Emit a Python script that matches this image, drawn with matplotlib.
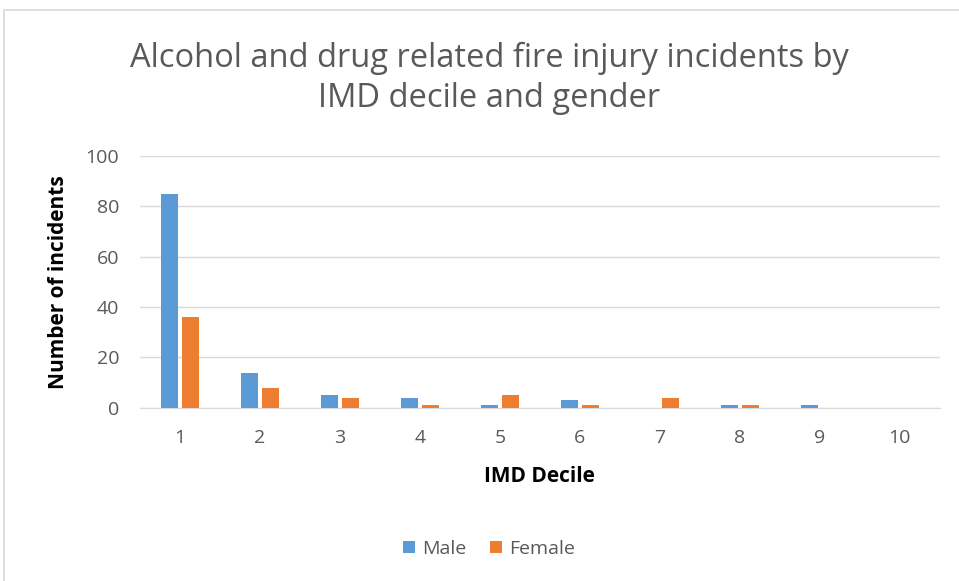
import numpy as np
import matplotlib.pyplot as plt
from matplotlib.patches import Rectangle

deciles = ['1', '2', '3', '4', '5', '6', '7', '8', '9', '10']
male = [85, 14, 5, 4, 1, 3, 0, 1, 1, 0]
female = [36, 8, 4, 1, 5, 1, 4, 1, 0, 0]

plt.rcParams['font.family'] = ['Open Sans', 'DejaVu Sans']

fig = plt.figure(figsize=(9.59, 5.81), dpi=100)
ax = fig.add_axes([0.146, 0.298, 0.834, 0.4335])

# chart frame
fig.patches.append(Rectangle((0.004, -0.1), 1.2, 1.082, transform=fig.transFigure,
                             fill=False, edgecolor='#d9d9d9', linewidth=1.2))

x = np.arange(len(deciles))
w = 0.21
ax.bar(x - 0.13, male, w, color='#5B9BD5', label='Male', zorder=3)
ax.bar(x + 0.13, female, w, color='#ED7D31', label='Female', zorder=3)

ax.set_xlim(-0.5, len(deciles) - 0.5)
ax.set_ylim(0, 100)
ax.set_yticks(range(0, 101, 20))
ax.set_xticks(x)
ax.set_xticklabels(deciles)
ax.yaxis.grid(True, color='#d9d9d9', linewidth=1)
ax.set_axisbelow(True)
for s in ['top', 'right', 'left']:
    ax.spines[s].set_visible(False)
ax.spines['bottom'].set_color('#d9d9d9')
ax.tick_params(length=0, labelsize=14, colors='#595959')
ax.tick_params(axis='y', pad=15)
ax.tick_params(axis='x', pad=15)

ax.set_xlabel('IMD Decile', fontsize=15, fontweight='bold', labelpad=14)
ax.set_ylabel('Number of incidents', fontsize=15, fontweight='bold', labelpad=12)

fig.text(0.51, 0.865, 'Alcohol and drug related fire injury incidents by\nIMD decile and gender',
         ha='center', va='center', fontsize=23.5, color='#595959', linespacing=1.3)

fig.legend(loc='center', bbox_to_anchor=(0.51, 0.055), ncol=2, frameon=False,
           fontsize=14, handlelength=0.6, handleheight=0.6, columnspacing=1.2,
           handletextpad=0.4, labelcolor='#595959')

fig.savefig('out.png', dpi=100)
